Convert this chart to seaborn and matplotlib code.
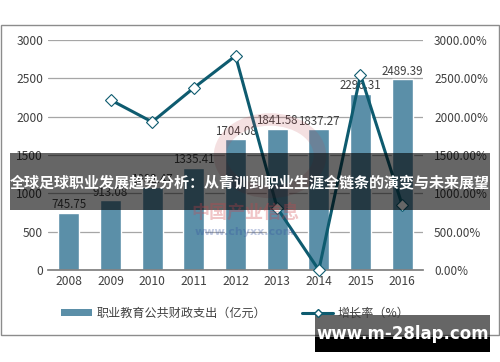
import pandas as pd
import matplotlib.pyplot as plt
import seaborn as sns
from matplotlib.lines import Line2D
from matplotlib.patches import Patch, Rectangle, Circle


YEARS = ["2008", "2009", "2010", "2011", "2012", "2013", "2014", "2015", "2016"]
SPENDING = [745.75, 913.08, 1082.47, 1335.41, 1704.08, 1841.58, 1837.27, 2296.31, 2489.39]
GROWTH_YEARS = ["2009", "2010", "2011", "2012", "2013", "2014", "2015", "2016"]
GROWTH = [2217, 1930, 2374, 2791, 809, 0, 2543, 848]

BAR_LABEL = "职业教育公共财政支出（亿元）"
LINE_LABEL = "增长率（%）"
TITLE = "全球足球职业发展趋势分析：从青训到职业生涯全链条的演变与未来展望"
FOOTER = "www.m-28lap.com"

BAR_COLOR = "#5b8fa8"
LINE_COLOR = "#0e5b6f"
TEXT_COLOR = "#404040"


def main():
    sns.set_theme(style="white")
    plt.rcParams["font.family"] = ["Noto Sans CJK SC", "DejaVu Sans"]

    bars = pd.DataFrame({"year": YEARS, "spending": SPENDING})
    growth = pd.DataFrame({"year": GROWTH_YEARS, "growth": GROWTH})

    fig = plt.figure(figsize=(5, 3.62), dpi=100)
    ax = fig.add_axes([0.096, 0.254, 0.75, 0.636])

    sns.barplot(data=bars, x="year", y="spending", order=YEARS,
                color=BAR_COLOR, saturation=1, width=0.5, ax=ax)
    ax.bar_label(ax.containers[0], labels=[f"{v:.2f}" for v in SPENDING],
                 fontsize=8.3, color=TEXT_COLOR, padding=1)
    ax.set_ylim(0, 3000)
    ax.set_yticks(range(0, 3001, 500))
    ax.yaxis.grid(True, color="#a6a6a6", linewidth=0.9)
    ax.set_axisbelow(True)
    ax.set_xlabel("")
    ax.set_ylabel("")
    ax.tick_params(axis="both", labelsize=8.7, labelcolor=TEXT_COLOR, length=0)
    for side in ["top", "right", "left"]:
        ax.spines[side].set_visible(False)
    ax.spines["bottom"].set_color("#808080")

    ax2 = ax.twinx()
    sns.pointplot(data=growth, x="year", y="growth", order=YEARS,
                  color=LINE_COLOR, markers="D", linewidth=2.2,
                  markersize=6, markerfacecolor="white",
                  markeredgecolor=LINE_COLOR, markeredgewidth=0.8,
                  ax=ax2)
    for line in ax2.lines:
        line.set_clip_on(False)
    ax2.set_ylim(0, 3000)
    ax2.set_yticks(range(0, 3001, 500))
    ax2.set_yticklabels([f"{v:.2f}%" for v in range(0, 3001, 500)])
    ax2.set_ylabel("")
    ax2.set_xlabel("")
    ax2.tick_params(axis="y", labelsize=8.5, labelcolor=TEXT_COLOR, length=0, pad=8)
    for side in ["top", "right", "left", "bottom"]:
        ax2.spines[side].set_visible(False)
    ax.set_xlim(-0.5, len(YEARS) - 0.5)
    ax2.set_xlim(-0.5, len(YEARS) - 0.5)

    handles = [
        Patch(facecolor=BAR_COLOR, edgecolor="none"),
        Line2D([0], [0], color=LINE_COLOR, linewidth=2.2, marker="D",
               markersize=4, markerfacecolor="white", markeredgecolor=LINE_COLOR),
    ]
    fig.legend(handles, [BAR_LABEL, LINE_LABEL], loc="center",
               bbox_to_anchor=(0.47, 0.135), ncol=2, frameon=False,
               fontsize=8.7, handlelength=2.6, handleheight=0.5,
               columnspacing=3.0, handletextpad=0.3, labelcolor=TEXT_COLOR)

    # outer frame
    fig.add_artist(Rectangle((0.002, 0.075), 0.995, 0.856, transform=fig.transFigure,
                             fill=False, edgecolor="#8c8c8c", linewidth=1))

    # watermark
    fig.add_artist(Circle((0.54, 0.57), 0.1, transform=fig.transFigure,
                          fill=False, edgecolor="#c0404a", linewidth=9, alpha=0.16))
    fig.text(0.49, 0.41, "中国产业信息", fontsize=13, fontweight="bold",
             color="#d04048", alpha=0.3, ha="center", va="center")
    fig.text(0.49, 0.36, "www.chyxx.com", fontsize=8, fontweight="bold",
             color="#3050a0", alpha=0.3, ha="center", va="center",
             family="DejaVu Sans")

    # title banner
    fig.add_artist(Rectangle((0.02, 0.42), 0.96, 0.157, transform=fig.transFigure,
                             facecolor="black", edgecolor="none", alpha=0.6))
    fig.text(0.5, 0.497, TITLE, fontsize=10.8, fontweight="bold", color="white",
             ha="center", va="center")

    # footer banner
    fig.add_artist(Rectangle((0.63, 0.069), 0.35, 0.061, transform=fig.transFigure,
                             facecolor="black", edgecolor="none", alpha=0.6))
    fig.add_artist(Rectangle((0.63, 0.028), 0.35, 0.041, transform=fig.transFigure,
                             facecolor="black", edgecolor="none"))
    fig.text(0.805, 0.078, FOOTER, fontsize=12, fontweight="bold", color="white",
             ha="center", va="center", family="DejaVu Sans")

    fig.savefig("out.png", dpi=100)
    plt.close(fig)


if __name__ == "__main__":
    main()
